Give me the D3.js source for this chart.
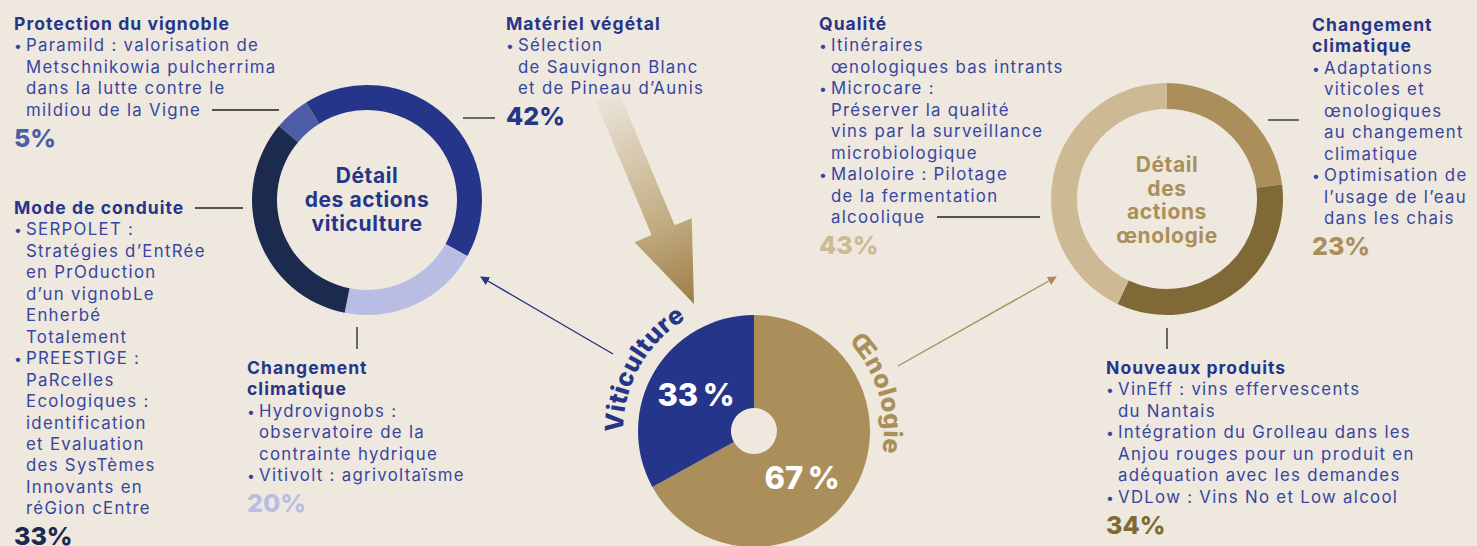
<!DOCTYPE html>
<html>
<head>
<meta charset="utf-8">
<script src="https://cdn.jsdelivr.net/npm/d3@7"></script>
<style>
  html, body { margin: 0; padding: 0; background: #eee8de; }
  svg { display: block; font-family: "Inter", "Noto Sans", sans-serif; }
</style>
</head>
<body>
<svg id="chart" width="1477" height="546"></svg>
<script>
// ---- data ----
const mainCats = ["Œnologie", "Viticulture"];
const mainValues = [67, 33];

const vitiCats = ["Protection du vignoble", "Matériel végétal", "Changement climatique", "Mode de conduite"];
const vitiValues = [5, 42, 20, 33];
const vitiTitles = [["Protection du vignoble"], ["Matériel végétal"], ["Changement", "climatique"], ["Mode de conduite"]];
const vitiItems = [
  ["• Paramild : valorisation de", "Metschnikowia pulcherrima", "dans la lutte contre le", "mildiou de la Vigne"],
  ["• Sélection", "de Sauvignon Blanc", "et de Pineau d’Aunis"],
  ["• Hydrovignobs :", "observatoire de la", "contrainte hydrique", "• Vitivolt : agrivoltaïsme"],
  ["• SERPOLET :", "Stratégies d’EntRée", "en PrOduction", "d’un vignobLe", "Enherbé", "Totalement",
   "• PREESTIGE :", "PaRcelles", "Ecologiques :", "identification", "et Evaluation", "des SysTèmes",
   "Innovants en", "réGion cEntre"]
];

const oenoCats = ["Changement climatique", "Nouveaux produits", "Qualité"];
const oenoValues = [23, 34, 43];
const oenoTitles = [["Changement", "climatique"], ["Nouveaux produits"], ["Qualité"]];
const oenoItems = [
  ["• Adaptations", "viticoles et", "œnologiques", "au changement", "climatique", "• Optimisation de", "l’usage de l’eau", "dans les chais"],
  ["• VinEff : vins effervescents", "du Nantais", "• Intégration du Grolleau dans les", "Anjou rouges pour un produit en", "adéquation avec les demandes", "• VDLow : Vins No et Low alcool"],
  ["• Itinéraires", "œnologiques bas intrants", "• Microcare :", "Préserver la qualité", "vins par la surveillance", "microbiologique", "• Maloloire : Pilotage", "de la fermentation", "alcoolique"]
];

// ---- styles / layout ----
const blue = "#25358a", bodyBlue = "#3646a0", gold = "#ab8f5a";
const mainColors = [gold, blue];
const vitiColors = ["#4e5ea6", "#25358a", "#b9bde3", "#1c2a4f"];
const oenoColors = ["#ab8f5a", "#7f6a37", "#cdb994"];

const mainC = { x: 754, y: 431 };
const vitiC = { x: 367, y: 200 };
const oenoC = { x: 1167, y: 199 };

const vitiBlocks = [
  { x: 14, y: 30 }, { x: 506, y: 30 }, { x: 247, y: 374 }, { x: 14, y: 214 }
];
const oenoBlocks = [
  { x: 1312, y: 31 }, { x: 1106, y: 374 }, { x: 819, y: 30 }
];

const svg = d3.select("#chart");
const rad = d => d * Math.PI / 180;

// ---- big gradient arrow ----
const defs = svg.append("defs");
const start = { x: 607, y: 96 }, tip = { x: 694, y: 304 };
const dx = tip.x - start.x, dy = tip.y - start.y, len = Math.hypot(dx, dy);
const u = [dx / len, dy / len], n = [u[1] * -1, u[0]];
const grad = defs.append("linearGradient").attr("id", "arrowGrad")
  .attr("gradientUnits", "userSpaceOnUse")
  .attr("x1", start.x).attr("y1", start.y).attr("x2", tip.x).attr("y2", tip.y);
grad.append("stop").attr("offset", 0).attr("stop-color", "#ebe4d8");
grad.append("stop").attr("offset", 0.6).attr("stop-color", "#c3ad84");
grad.append("stop").attr("offset", 1).attr("stop-color", "#9c7d45");
const P = (a, b) => [start.x + u[0] * a + n[0] * b, start.y + u[1] * a + n[1] * b];
const shaftW = 12.5, headW = 31, headL = 80;
svg.append("polygon")
  .attr("points", [P(0, -shaftW), P(len - headL, -shaftW), P(len - headL, -headW), P(len, 0),
                   P(len - headL, headW), P(len - headL, shaftW), P(0, shaftW)].map(p => p.join(",")).join(" "))
  .attr("fill", "url(#arrowGrad)");

// ---- thin connector arrows ----
function marker(id, color) {
  defs.append("marker").attr("id", id).attr("viewBox", "0 0 10 10")
    .attr("refX", 9).attr("refY", 5).attr("markerWidth", 9).attr("markerHeight", 9)
    .attr("markerUnits", "userSpaceOnUse").attr("orient", "auto")
    .append("path").attr("d", "M0,0L10,5L0,10z").attr("fill", color);
}
marker("mBlue", blue);
marker("mGold", gold);
svg.append("line").attr("x1", 613).attr("y1", 354).attr("x2", 481).attr("y2", 277)
  .attr("stroke", blue).attr("stroke-width", 1.4).attr("marker-end", "url(#mBlue)");
svg.append("line").attr("x1", 898).attr("y1", 366).attr("x2", 1056).attr("y2", 277)
  .attr("stroke", gold).attr("stroke-width", 1.4).attr("marker-end", "url(#mGold)");

// ---- donuts ----
function donut(center, values, colors, r0, r1, a0) {
  const pie = d3.pie().sort(null).startAngle(rad(a0)).endAngle(rad(a0) + 2 * Math.PI);
  const arc = d3.arc().innerRadius(r0).outerRadius(r1);
  const g = svg.append("g").attr("transform", `translate(${center.x},${center.y})`);
  g.selectAll("path").data(pie(values)).join("path")
    .attr("d", arc).attr("fill", (d, i) => colors[i]);
  return g;
}
donut(vitiC, vitiValues, vitiColors, 90, 115, -50);
donut(oenoC, oenoValues, oenoColors, 90, 116, 0);
const mainG = donut(mainC, mainValues, mainColors, 23, 116, 0);

// pie percentage labels
const mainLabelPos = [[48, 47], [-58, -36]];
mainG.selectAll("text.pct").data(mainValues).join("text")
  .attr("class", "pct")
  .attr("x", (d, i) => mainLabelPos[i][0]).attr("y", (d, i) => mainLabelPos[i][1] + 11)
  .attr("text-anchor", "middle").attr("fill", "#fff")
  .attr("font-size", 31).attr("font-weight", 800)
  .text(d => d + "\u2009%");

// curved category labels, one glyph at a time along the circle
function curvedText(c, r, midDeg, str, color) {
  const style = s => s.attr("font-size", 25).attr("font-weight", 800).attr("fill", color);
  const tmp = svg.append("text").call(style);
  const chars = Array.from(str);
  const widths = chars.map(ch => { tmp.text(ch); return tmp.node().getComputedTextLength() + 0.4; });
  tmp.remove();
  const total = d3.sum(widths);
  let acc = rad(midDeg) - total / r / 2;
  chars.forEach((ch, i) => {
    const a = acc + widths[i] / 2 / r;
    acc += widths[i] / r;
    svg.append("text").call(style)
      .attr("text-anchor", "middle")
      .attr("transform", `translate(${c.x + r * Math.sin(a)},${c.y - r * Math.cos(a)}) rotate(${a * 180 / Math.PI})`)
      .text(ch);
  });
}
const curveMid = [73, -61], curveR = [130, 131];
mainCats.forEach((cat, i) => curvedText(mainC, curveR[i], curveMid[i], cat, mainColors[i]));

// donut centre titles
function centerTitle(c, lines, color, y0, lh) {
  svg.append("g").selectAll("text").data(lines).join("text")
    .attr("x", c.x).attr("y", (d, i) => y0 + i * lh)
    .attr("text-anchor", "middle").attr("fill", color)
    .attr("font-size", 21).attr("font-weight", 700).attr("letter-spacing", 0.6)
    .text(d => d);
}
centerTitle(vitiC, ["Détail", "des actions", "viticulture"], blue, 183, 24);
centerTitle(oenoC, ["Détail", "des", "actions", "œnologie"], gold, 172, 23.5);

// ---- text blocks ----
function block(b, titles, items, value, color) {
  const g = svg.append("g");
  const lh = 21.45;
  titles.forEach((t, i) => {
    g.append("text").attr("x", b.x).attr("y", b.y + i * lh)
      .attr("fill", blue).attr("font-size", 17.5).attr("font-weight", 700)
      .attr("letter-spacing", 1.05).text(t);
  });
  let y = b.y + titles.length * lh;
  items.forEach((t, i) => {
    const bullet = t.startsWith("• ");
    if (bullet) {
      g.append("text").attr("x", b.x).attr("y", y + i * lh)
        .attr("fill", bodyBlue).attr("font-size", 14).text("•");
    }
    g.append("text").attr("x", b.x + 12).attr("y", y + i * lh)
      .attr("fill", bodyBlue).attr("font-size", 16.8).attr("font-weight", 400)
      .attr("letter-spacing", 1.3)
      .text(bullet ? t.slice(2) : t);
  });
  g.append("text").attr("x", b.x).attr("y", y + (items.length - 1) * lh + 31)
    .attr("fill", color).attr("font-size", 25).attr("font-weight", 800).text(value + "%");
}
vitiCats.forEach((c, i) => block(vitiBlocks[i], vitiTitles[i], vitiItems[i], vitiValues[i], vitiColors[i]));
oenoCats.forEach((c, i) => block(oenoBlocks[i], oenoTitles[i], oenoItems[i], oenoValues[i], oenoColors[i]));

// ---- leader lines ----
const leaders = [
  [212, 110, 279, 110], [463, 118, 495, 118], [195, 208, 243, 208], [357, 327, 357, 349],
  [937, 217, 1040, 217], [1268, 120, 1299, 120], [1167, 328, 1167, 349]
];
svg.append("g").selectAll("line").data(leaders).join("line")
  .attr("x1", d => d[0]).attr("y1", d => d[1]).attr("x2", d => d[2]).attr("y2", d => d[3])
  .attr("stroke", "#222").attr("stroke-width", 1.3);
</script>
</body>
</html>
